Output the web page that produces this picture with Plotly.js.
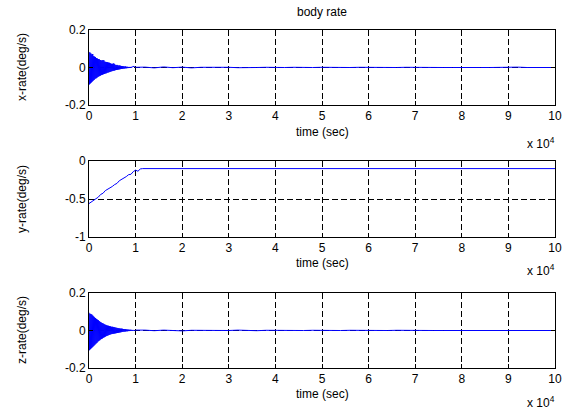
<!DOCTYPE html>
<html>
<head>
<meta charset="utf-8">
<script src="https://cdn.plot.ly/plotly-3.0.1.min.js"></script>
<style>html,body{margin:0;padding:0;background:#fff;}#chart{width:568px;height:410px;}</style>
</head>
<body>
<div id="chart"></div>
<script>
// time in units of 10^4 seconds
const denseStep = 0.01;           // sample spacing of the early transient (x, z)
const yDenseStep = 0.05;          // sample spacing of the y-rate ramp
const tailStart = 1.2, tailStep = 0.2;

const xRateDense = [
  0.083,-0.09,0.08,-0.085,0.075,-0.08,0.07,-0.075,0.072,-0.07,
  0.06,-0.066,0.058,-0.06,0.055,-0.058,0.05,-0.055,0.048,-0.05,
  0.045,-0.048,0.044,-0.045,0.04,-0.043,0.038,-0.04,0.037,-0.038,
  0.04,-0.036,0.038,-0.034,0.031,-0.032,0.03,-0.031,0.029,-0.028,
  0.028,-0.027,0.026,-0.025,0.025,-0.024,0.022,-0.021,0.02,-0.02,
  0.019,-0.018,0.022,-0.017,0.02,-0.016,0.015,-0.014,0.013,-0.013,
  0.014,-0.012,0.012,-0.011,0.01,-0.01,0.011,-0.009,0.009,-0.008,
  0.008,-0.008,0.007,-0.006,0.006,-0.006,0.005,-0.005,0.006,-0.004,
  0.004,-0.004,0.004,-0.003,0.003,-0.003,0.003,-0.002,0.003,-0.002,
  0.003,-0.001,0.004,0.002,0.006,0.004,0.007,0.005,0.004,0.002,0.001
];
const xRateTail = [
  0.002,-0.002,0.003,-0.001,0.002,-0.002,0.001,0.002,-0.001,0.001,
  -0.001,0.001,0.0,0.001,-0.001,0.0,0.001,-0.001,0.0,0.001,
  0.0,-0.001,0.0,0.001,0.0,-0.001,0.0,0.0,0.001,0.0,
  0.0,-0.001,0.0,0.0,0.001,0.0,0.0,0.0,0.002,0.0,
  0.002,0.0,0.0,0.0,0.0
];

const yRateDense = [
  -0.56,-0.54,-0.52,-0.49,-0.475,-0.44,-0.425,-0.39,-0.375,-0.35,
  -0.335,-0.31,-0.295,-0.26,-0.245,-0.22,-0.205,-0.18,-0.175,-0.14,
  -0.12,-0.135,-0.105,-0.1,-0.1
];
const yRateTail = [
  -0.1,-0.104,-0.098,-0.103,-0.097,-0.102,-0.098,-0.104,-0.099,-0.103,
  -0.098,-0.102,-0.097,-0.103,-0.099,-0.102,-0.098,-0.104,-0.099,-0.102,
  -0.097,-0.103,-0.099,-0.102,-0.098,-0.103,-0.099,-0.102,-0.098,-0.103,
  -0.099,-0.102,-0.098,-0.103,-0.099,-0.102,-0.098,-0.103,-0.099,-0.102,
  -0.098,-0.103,-0.099,-0.102,-0.1
];

const zRateDense = [
  0.095,-0.105,0.09,-0.1,0.088,-0.095,0.085,-0.09,0.08,-0.085,
  0.075,-0.08,0.07,-0.075,0.066,-0.07,0.062,-0.066,0.058,-0.06,
  0.055,-0.056,0.05,-0.052,0.046,-0.048,0.043,-0.045,0.04,-0.042,
  0.038,-0.038,0.035,-0.036,0.032,-0.033,0.03,-0.03,0.028,-0.028,
  0.026,-0.026,0.025,-0.024,0.023,-0.022,0.022,-0.02,0.02,-0.019,
  0.02,-0.018,0.019,-0.017,0.018,-0.016,0.016,-0.015,0.015,-0.014,
  0.014,-0.013,0.013,-0.012,0.012,-0.011,0.011,-0.01,0.01,-0.009,
  0.01,-0.008,0.009,-0.007,0.008,-0.006,0.007,-0.006,0.007,-0.005,
  0.006,-0.004,0.005,-0.004,0.005,-0.003,0.004,-0.003,0.004,-0.002,
  0.004,-0.002,0.003,-0.002,0.003,-0.001,0.003,-0.001,0.002,-0.001,0.002
];
const zRateTail = [
  0.002,-0.001,0.002,0.0,-0.002,0.001,0.0,0.002,-0.001,0.0,
  0.002,0.0,-0.001,0.001,0.0,0.002,0.0,0.0,0.001,0.0,
  0.0,0.0,0.001,0.0,0.0,0.0,0.0,0.001,0.0,0.0,
  0.0,0.0,0.0,0.0,0.0,0.0,0.0,0.0,0.0,0.0,
  0.0,0.0,0.0,0.0,0.0
];

const xTickVals = [0,1,2,3,4,5,6,7,8,9,10];
const xTickText = ['0','1','2','3','4','5','6','7','8','9','10'];
const yLabels = ['x-rate(deg/s)','y-rate(deg/s)','z-rate(deg/s)'];
const titleText = 'body rate';
const xLabel = 'time (sec)';
const expLabel = 'x 10<sup>4</sup>';

function times(n, start, step){ return Array.from({length:n}, (_, i) => +(start + i*step).toFixed(4)); }
function series(dense, dStep, tail){
  return {
    x: times(dense.length, 0, dStep).concat(times(tail.length, tailStart, tailStep)),
    y: dense.concat(tail)
  };
}
const sx = series(xRateDense, denseStep, xRateTail);
const sy = series(yRateDense, yDenseStep, yRateTail);
const sz = series(zRateDense, denseStep, zRateTail);

const font = {family:'Liberation Sans, Arial, sans-serif', size:12, color:'#000'};
const line = {color:'#0000ff', width:1};
const traces = [
  {x:sx.x, y:sx.y, xaxis:'x', yaxis:'y', type:'scatter', mode:'lines', line:line},
  {x:sy.x, y:sy.y, xaxis:'x2', yaxis:'y2', type:'scatter', mode:'lines', line:line},
  {x:sz.x, y:sz.y, xaxis:'x3', yaxis:'y3', type:'scatter', mode:'lines', line:line}
];

const H = 410, L = 89, R = 555, W = R - L;
function py(p){ return 1 - p/H; }
function px(p){ return (p - L)/W; }

function xa(anchor){
  return {anchor:anchor, domain:[0,1], range:[0,10], tickvals:xTickVals, ticktext:xTickText,
    ticks:'inside', ticklen:4, tickcolor:'#000', mirror:'ticks', showline:true, linecolor:'#000', linewidth:1,
    showgrid:true, gridcolor:'#000', gridwidth:1, griddash:'6px,3px', zeroline:false,
    tickfont:font, fixedrange:true};
}
function ya(anchor, dom, range, vals, text){
  return {anchor:anchor, domain:dom, range:range, tickvals:vals, ticktext:text,
    ticks:'inside', ticklen:4, tickcolor:'#000', mirror:'ticks', showline:true, linecolor:'#000', linewidth:1,
    showgrid:true, gridcolor:'#000', gridwidth:1, griddash:'6px,3px', zeroline:false,
    tickfont:font, fixedrange:true};
}

const d1 = [py(105), py(30)], d2 = [py(237), py(161)], d3 = [py(368), py(293)];
const ann = [];
ann.push({text:titleText, xref:'paper', yref:'paper', x:0.5, y:py(12), showarrow:false, font:font, xanchor:'center', yanchor:'middle'});
const labY = [[67,132,143],[199,263,270],[330,394,402]];
labY.forEach((r,i)=>{
  ann.push({text:yLabels[i], xref:'paper', yref:'paper', x:px(22), y:py(r[0]), textangle:-90, showarrow:false, font:font, xanchor:'center', yanchor:'middle'});
  ann.push({text:xLabel, xref:'paper', yref:'paper', x:0.5, y:py(r[1]), showarrow:false, font:font, xanchor:'center', yanchor:'middle'});
  ann.push({text:expLabel, xref:'paper', yref:'paper', x:px(557), y:py(r[2]), showarrow:false, font:font, xanchor:'right', yanchor:'middle'});
});

const layout = {
  width:568, height:410, margin:{l:L, r:568-R, t:0, b:0},
  paper_bgcolor:'#fff', plot_bgcolor:'#fff', showlegend:false, font:font,
  xaxis:xa('y'), xaxis2:xa('y2'), xaxis3:xa('y3'),
  yaxis:ya('x', d1, [-0.2,0.2], [-0.2,0,0.2], ['-0.2','0','0.2']),
  yaxis2:ya('x2', d2, [-1,0], [-1,-0.5,0], ['-1','-0.5','0']),
  yaxis3:ya('x3', d3, [-0.2,0.2], [-0.2,0,0.2], ['-0.2','0','0.2']),
  annotations:ann
};
Plotly.newPlot('chart', traces, layout, {staticPlot:true, displayModeBar:false});
</script>
</body>
</html>
